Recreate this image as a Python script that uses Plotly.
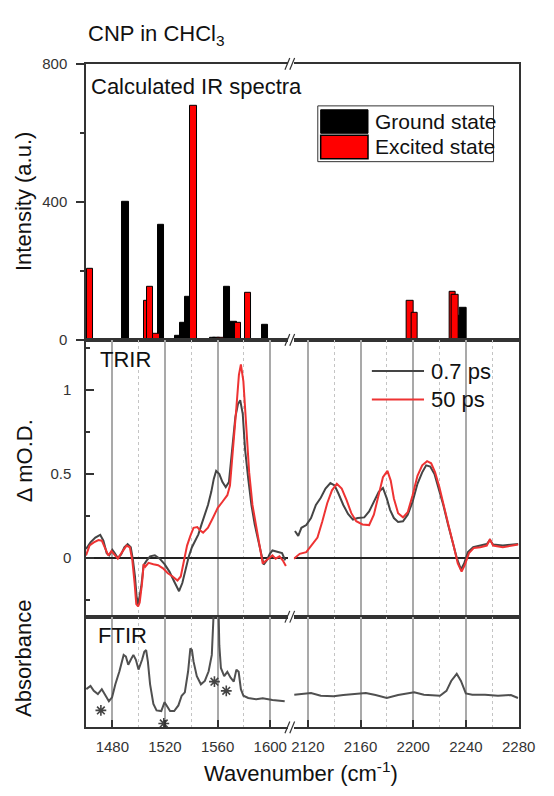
import plotly.graph_objects as go

# ---------------- data ----------------
# Calculated IR spectra (wavenumber, intensity)
gs_wn = [1490, 1517, 1530, 1534, 1537.4, 1556.4, 1559.2, 1567, 1572.3, 1596, 2232.5, 2238]
gs_int = [400, 332, 11, 49, 125, 7, 7, 154, 53, 42, 70, 92]
ex_wn = [1459, 1463, 1506.8, 1508.7, 1513.6, 1541.5, 1562, 1575.5, 1583, 2197.5, 2201, 2230, 2231.8]
ex_int = [60, 207, 114, 153, 17, 677, 5, 48, 136, 114, 77, 140, 131]

# TRIR 0.7 ps
g_left_wn = [1460.0, 1463.4, 1467.1, 1470.8, 1473.2, 1475.7, 1477.6, 1480.0, 1481.8, 1484.2, 1486.7, 1489.1,
             1491.6, 1494.0, 1495.7, 1497.2, 1498.4, 1499.6, 1502.0, 1503.8, 1506.2, 1508.7, 1512.3, 1516.0,
             1519.7, 1523.4, 1527.0, 1530.7, 1533.2, 1535.6, 1538.0, 1540.5, 1543.5, 1545.4, 1547.8, 1550.3,
             1552.7, 1555.2, 1557.1, 1558.9, 1561.3, 1563.7, 1566.2, 1568.6, 1571.0, 1573.5, 1575.5, 1577.2,
             1579.1, 1580.9, 1583.3, 1585.7, 1588.2, 1590.6, 1593.0, 1595.0, 1597.2, 1599.7, 1601.7, 1605.3,
             1609.0, 1611.4]
g_left_y = [0.054, 0.093, 0.122, 0.138, 0.103, 0.029, 0.015, 0.048, 0.029, 0.000, 0.021, 0.064,
            0.083, 0.064, -0.014, -0.110, -0.227, -0.280, -0.170, -0.043, -0.014, 0.010, 0.016, -0.004,
            -0.037, -0.081, -0.140, -0.198, -0.149, -0.062, 0.006, 0.064, 0.115, 0.141, 0.200, 0.258,
            0.316, 0.394, 0.471, 0.519, 0.500, 0.452, 0.422, 0.452, 0.645, 0.839, 0.917, 0.940,
            0.859, 0.645, 0.471, 0.316, 0.200, 0.122, 0.025, -0.039, -0.017, 0.025, 0.045, 0.035,
            0.029, -0.014]
g_right_wn = [2110.2, 2112.7, 2115.1, 2118.8, 2122.4, 2126.1, 2129.8, 2133.4, 2137.1, 2140.3, 2143.2, 2146.9,
              2150.5, 2154.2, 2157.9, 2162.8, 2166.5, 2170.1, 2173.8, 2177.0, 2179.9, 2182.4, 2185.3, 2188.5,
              2192.2, 2195.8, 2199.5, 2203.2, 2206.8, 2209.8, 2212.9, 2216.1, 2219.1, 2222.8, 2226.4, 2230.1,
              2233.2, 2236.2, 2238.6, 2241.5, 2245.5, 2250.9, 2255.8, 2258.2, 2260.6, 2268.0, 2275.3, 2279.7]
g_right_y = [0.161, 0.132, 0.180, 0.196, 0.238, 0.316, 0.359, 0.413, 0.446, 0.432, 0.384, 0.316,
             0.262, 0.229, 0.238, 0.242, 0.277, 0.335, 0.394, 0.417, 0.355, 0.287, 0.238, 0.215,
             0.219, 0.258, 0.335, 0.442, 0.510, 0.552, 0.545, 0.500, 0.423, 0.316, 0.200, 0.093,
             -0.004, -0.068, -0.033, 0.035, 0.064, 0.074, 0.083, 0.107, 0.080, 0.074, 0.080, 0.083]

# TRIR 50 ps
r_left_wn = [1460.0, 1462.7, 1465.9, 1469.5, 1472.0, 1474.5, 1476.9, 1479.3, 1481.8, 1484.2, 1487.4, 1490.8,
             1493.3, 1495.2, 1496.9, 1498.2, 1499.6, 1500.8, 1502.6, 1503.8, 1505.0, 1507.5, 1511.2, 1514.8,
             1518.5, 1522.2, 1525.8, 1529.5, 1532.0, 1534.4, 1536.8, 1539.3, 1541.7, 1544.6, 1546.6, 1549.0,
             1552.7, 1556.4, 1560.0, 1563.7, 1567.4, 1569.4, 1571.8, 1574.3, 1576.2, 1577.7, 1579.6, 1581.6,
             1584.0, 1586.5, 1589.4, 1591.9, 1594.3, 1596.7, 1599.2, 1601.7, 1604.1, 1607.0, 1609.5, 1611.9]
r_left_y = [0.015, 0.074, 0.093, 0.107, 0.103, 0.054, 0.015, 0.041, 0.015, -0.004, 0.035, 0.074,
            0.064, -0.014, -0.149, -0.275, -0.289, -0.265, -0.149, -0.037, -0.052, -0.029, -0.037, -0.043,
            -0.062, -0.091, -0.110, -0.134, -0.110, -0.023, 0.074, 0.132, 0.180, 0.184, 0.165, 0.151,
            0.180, 0.238, 0.297, 0.335, 0.374, 0.432, 0.645, 0.897, 1.091, 1.153, 1.052, 0.800,
            0.510, 0.316, 0.180, 0.064, -0.033, -0.017, 0.002, 0.015, -0.004, 0.010, -0.014, -0.048]
r_right_wn = [2109.4, 2113.8, 2118.8, 2123.7, 2127.3, 2131.0, 2134.7, 2138.3, 2142.0, 2145.7, 2149.4, 2153.0,
              2156.7, 2161.5, 2166.5, 2170.1, 2173.8, 2177.0, 2180.4, 2182.9, 2185.3, 2188.5, 2192.2, 2195.8,
              2199.5, 2203.2, 2206.8, 2210.5, 2213.6, 2216.6, 2219.8, 2223.2, 2226.9, 2230.6, 2233.8, 2236.7,
              2239.1, 2242.3, 2246.0, 2250.9, 2255.8, 2258.2, 2260.6, 2268.0, 2275.3, 2279.7]
r_right_y = [-0.004, 0.025, 0.035, 0.083, 0.122, 0.219, 0.326, 0.403, 0.442, 0.413, 0.345, 0.267,
             0.219, 0.200, 0.196, 0.258, 0.384, 0.481, 0.519, 0.461, 0.355, 0.267, 0.242, 0.273,
             0.374, 0.490, 0.552, 0.577, 0.564, 0.510, 0.423, 0.306, 0.190, 0.074, -0.033, -0.081,
             -0.043, 0.029, 0.060, 0.064, 0.074, 0.112, 0.074, 0.064, 0.074, 0.080]

# FTIR (arbitrary absorbance units)
f_left_wn = [1460.2, 1463.4, 1465.9, 1469.0, 1472.0, 1474.5, 1477.4, 1479.8, 1482.3, 1485.4, 1488.6, 1490.3,
             1492.1, 1494.0, 1496.0, 1497.9, 1499.9, 1502.6, 1504.3, 1505.7, 1507.0, 1508.7, 1511.2, 1513.6,
             1517.2, 1519.7, 1521.7, 1523.9, 1527.0, 1530.2, 1532.7, 1535.1, 1537.6, 1539.3, 1540.5, 1541.7,
             1544.2, 1547.3, 1550.3, 1553.2, 1555.6, 1556.9, 1558.0, 1560.3, 1561.3, 1562.5, 1565.0, 1567.4,
             1569.9, 1572.3, 1574.3, 1576.0, 1577.7, 1579.6, 1583.3, 1589.4, 1594.3, 1601.7, 1611.0]
f_left_a = [0.345, 0.375, 0.330, 0.300, 0.345, 0.300, 0.236, 0.271, 0.389, 0.507, 0.655, 0.640,
            0.566, 0.611, 0.655, 0.611, 0.522, 0.611, 0.684, 0.699, 0.596, 0.389, 0.212, 0.153,
            0.147, 0.227, 0.183, 0.147, 0.147, 0.198, 0.286, 0.316, 0.507, 0.714, 0.699, 0.596,
            0.463, 0.389, 0.419, 0.507, 0.655, 0.891, 1.300, 1.300, 0.743, 0.537, 0.463, 0.502,
            0.449, 0.413, 0.522, 0.502, 0.345, 0.286, 0.265, 0.254, 0.263, 0.248, 0.236]
f_right_wn = [2109.7, 2115.1, 2122.4, 2129.8, 2139.5, 2146.9, 2154.2, 2164.0, 2171.4, 2179.9, 2188.5, 2200.7,
              2208.1, 2215.4, 2220.3, 2225.2, 2228.8, 2233.0, 2236.2, 2239.9, 2244.8, 2254.5, 2264.3, 2274.1,
              2279.5]
f_right_a = [0.295, 0.300, 0.310, 0.286, 0.280, 0.292, 0.300, 0.310, 0.292, 0.265, 0.292, 0.316,
             0.295, 0.286, 0.286, 0.330, 0.419, 0.484, 0.419, 0.307, 0.295, 0.295, 0.286, 0.292,
             0.265]

# solvent bands marked with asterisks (wavenumber, absorbance)
star_wn = [1471.3, 1519.1, 1557.6, 1566.6]
star_a = [0.153, 0.035, 0.413, 0.330]

x_ticks_left = [1480, 1520, 1560, 1600]
x_ticks_right = [2120, 2160, 2200, 2240, 2280]

# ---------------- layout helpers ----------------
W, H = 554, 796
FONT = "Arial, Liberation Sans, sans-serif"
AX = "#333333"
GRAY = "#454545"
RED = "#ee3333"


def fx(p):
    return p / W


def fy(p):
    return 1 - p / H


L_DOM = [fx(87), fx(296)]
R_DOM = [fx(302), fx(535)]
L_RANGE = [1460, 1460 + (296 - 87) / 1.3625]
R_RANGE = [2120 - (316.7 - 302) / 1.3625, 2280]
ROW1 = [fy(338), fy(56)]
ROW2 = [fy(621), fy(338)]
ROW3 = [fy(734), fy(621)]


def left(wn):
    return wn < 1800


fig = go.Figure()


def add_bars(wns, vals, color, name):
    lw = [w for w in wns if left(w)]
    lv = [v for w, v in zip(wns, vals) if left(w)]
    rw = [w for w in wns if not left(w)]
    rv = [v for w, v in zip(wns, vals) if not left(w)]
    for xs, ys, xa, ya in [(lw, lv, "x", "y"), (rw, rv, "x2", "y2")]:
        fig.add_trace(go.Bar(x=xs, y=ys, width=5, name=name, showlegend=False,
                             marker=dict(color=color, line=dict(color="#000000", width=1)),
                             xaxis=xa, yaxis=ya))


add_bars(gs_wn, gs_int, "#000000", "Ground state")
add_bars(ex_wn, ex_int, "#ff0000", "Excited state")

# TRIR
for xs, ys, col, xa, ya, nm in [
    (g_left_wn, g_left_y, GRAY, "x3", "y3", "0.7 ps"),
    (g_right_wn, g_right_y, GRAY, "x4", "y4", "0.7 ps"),
    (r_left_wn, r_left_y, RED, "x3", "y3", "50 ps"),
    (r_right_wn, r_right_y, RED, "x4", "y4", "50 ps"),
]:
    fig.add_trace(go.Scatter(x=xs, y=ys, mode="lines", name=nm, showlegend=False,
                             line=dict(color=col, width=2), xaxis=xa, yaxis=ya))

# FTIR
fig.add_trace(go.Scatter(x=f_left_wn, y=f_left_a, mode="lines", showlegend=False,
                         line=dict(color="#505050", width=2), xaxis="x5", yaxis="y5"))
fig.add_trace(go.Scatter(x=f_right_wn, y=f_right_a, mode="lines", showlegend=False,
                         line=dict(color="#505050", width=2), xaxis="x6", yaxis="y6"))
# solvent band asterisks
fig.add_trace(go.Scatter(x=star_wn, y=star_a, mode="markers", showlegend=False, cliponaxis=False,
                         marker=dict(symbol="asterisk-open", size=9, color="#444444",
                                     line=dict(color="#444444", width=1.6)),
                         xaxis="x5", yaxis="y5"))

tickfont = dict(family=FONT, size=15, color="#333333")


def xaxis(dom, rng, anchor, row, right):
    d = dict(domain=dom, range=rng, anchor=anchor, showline=True, linecolor=AX, linewidth=1.5,
             mirror=True, zeroline=False, tickfont=tickfont)
    tvals = x_ticks_right if right else x_ticks_left
    if row == 1:
        d.update(showgrid=False, ticks="", showticklabels=False)
    else:
        d.update(tickmode="array", tickvals=tvals, showgrid=True, gridcolor="#a9a9a9", gridwidth=1.5,
                 minor=dict(tickmode="array",
                            tickvals=[t - 20 for t in tvals] + [tvals[-1] + 20],
                            showgrid=True, griddash="dot", gridcolor="#c4c4c4", gridwidth=1, ticks=""))
        if row == 2:
            d.update(ticks="", showticklabels=False)
        else:
            d.update(ticks="inside", ticklen=8, tickcolor=AX, tickwidth=1.5, showticklabels=True,
                     ticklabelstandoff=5)
    return d


def yaxis_right(dom, anchor, rng, zl=False):
    return dict(domain=dom, anchor=anchor, side="right", range=rng, showline=True, linecolor=AX,
                linewidth=1.5, ticks="", showticklabels=False, showgrid=False, zeroline=zl,
                zerolinecolor="#222222", zerolinewidth=1.5)


fig.update_layout(
    width=W, height=H, margin=dict(l=0, r=0, t=0, b=0),
    paper_bgcolor="white", plot_bgcolor="white", barmode="overlay", bargap=0,
    font=dict(family=FONT, size=15, color="#222222"),
    showlegend=False,
    xaxis=xaxis(L_DOM, L_RANGE, "y", 1, False),
    xaxis2=xaxis(R_DOM, R_RANGE, "y2", 1, True),
    xaxis3=xaxis(L_DOM, L_RANGE, "y3", 2, False),
    xaxis4=xaxis(R_DOM, R_RANGE, "y4", 2, True),
    xaxis5=xaxis(L_DOM, L_RANGE, "y5", 3, False),
    xaxis6=xaxis(R_DOM, R_RANGE, "y6", 3, True),
    yaxis=dict(domain=ROW1, anchor="x", range=[0, 800], tickmode="linear", tick0=0, dtick=400,
               ticks="outside", ticklen=8, tickwidth=1.5, tickcolor=AX,
               minor=dict(dtick=200, ticks="outside", ticklen=4, tickcolor=AX, tickwidth=1.5),
               showline=True, linecolor=AX, linewidth=1.5, showgrid=False, zeroline=False,
               tickfont=tickfont, ticklabelstandoff=6),
    yaxis2=yaxis_right(ROW1, "x2", [0, 800]),
    yaxis3=dict(domain=ROW2, anchor="x3", range=[-0.35, 1.3], tickmode="linear", tick0=0, dtick=0.5,
                ticks="inside", ticklen=8, tickwidth=1.5, tickcolor=AX,
                minor=dict(dtick=0.25, ticks="inside", ticklen=4, tickcolor=AX, tickwidth=1.5),
                showline=True, linecolor=AX, linewidth=1.5, showgrid=False, zeroline=True,
                zerolinecolor="#222222", zerolinewidth=1.5, tickfont=tickfont, ticklabelstandoff=10),
    yaxis4=yaxis_right(ROW2, "x4", [-0.35, 1.3], zl=True),
    yaxis5=dict(domain=ROW3, anchor="x5", range=[0, 1], showline=True, linecolor=AX, linewidth=1.5,
                ticks="", showticklabels=False, showgrid=False, zeroline=False),
    yaxis6=yaxis_right(ROW3, "x6", [0, 1]),
)

ann = []


def text(x, y, s, size=22, angle=0, xanchor="left", color="#111111"):
    ann.append(dict(x=fx(x), y=fy(y), xref="paper", yref="paper", text=s, showarrow=False,
                    xanchor=xanchor, yanchor="middle", textangle=angle,
                    font=dict(family=FONT, size=size, color=color)))


text(87, 27, "CNP in CHCl<sub>3</sub>")
text(90, 79, "Calculated IR spectra")
text(99, 358, "TRIR")
text(97, 640, "FTIR")
text(23, 197, "Intensity (a.u.)", angle=-90, xanchor="center")
text(23, 462, "Δ mO.D.", angle=-90, xanchor="center")
text(23, 664, "Absorbance", angle=-90, xanchor="center")
text(310, 780, "Wavenumber (cm<sup>-1</sup>)", xanchor="center")
text(384, 115, "Ground state", size=21)
text(384, 140.5, "Excited state", size=21)
text(442, 370, "0.7 ps")
text(442, 399, "50 ps")

shapes = []


def rect(x0, y0, x1, y1, fill, line="#000000", lw=1):
    shapes.append(dict(type="rect", xref="paper", yref="paper", x0=fx(x0), x1=fx(x1),
                       y0=fy(y0), y1=fy(y1), fillcolor=fill, line=dict(color=line, width=lw)))


def seg(x0, y0, x1, y1, color, lw):
    shapes.append(dict(type="line", xref="paper", yref="paper", x0=fx(x0), x1=fx(x1),
                       y0=fy(y0), y1=fy(y1), line=dict(color=color, width=lw)))


# bar legend
rect(327, 99, 509, 156, "white", AX, 1)
rect(330, 103, 379, 127, "#000000", "#000000", 1)
rect(330, 129, 379, 153, "#ff0000", "#000000", 1.5)
# line legend
seg(383, 370, 437, 370, GRAY, 2)
seg(383, 399, 437, 399, RED, 2)

# axis break marks
for yb in [56, 338, 621, 734]:
    seg(293, yb + 6, 298, yb - 6, AX, 1.2)
    seg(298, yb + 6, 303, yb - 6, AX, 1.2)

fig.update_layout(annotations=ann, shapes=shapes)
fig.write_html("out.html")
